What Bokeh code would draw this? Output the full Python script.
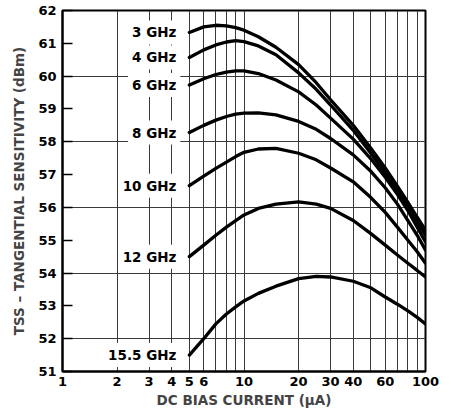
from bokeh.plotting import figure
from bokeh.models import FixedTicker, NumeralTickFormatter, Label, Range1d
from bokeh.embed import file_html
from bokeh.resources import INLINE

# DC bias current (uA)
bias_ua = [5, 6, 7, 8, 9, 10, 12, 15, 20, 25, 30, 40, 50, 60, 70, 80, 90, 100]

# TSS (dBm) per frequency
tss_3ghz = [61.33, 61.50, 61.55, 61.53, 61.48, 61.40, 61.20, 60.88, 60.35, 59.80,
            59.28, 58.50, 57.80, 57.20, 56.65, 56.15, 55.70, 55.30]
tss_4ghz = [60.57, 60.80, 60.95, 61.04, 61.08, 61.05, 60.92, 60.65, 60.10, 59.60,
            59.12, 58.35, 57.65, 57.05, 56.50, 56.00, 55.55, 55.15]
tss_6ghz = [59.73, 59.92, 60.05, 60.12, 60.16, 60.16, 60.08, 59.88, 59.52, 59.12,
            58.72, 58.08, 57.48, 56.92, 56.40, 55.90, 55.40, 54.95]
tss_8ghz = [58.28, 58.50, 58.66, 58.77, 58.84, 58.87, 58.88, 58.82, 58.62, 58.38,
            58.10, 57.60, 57.10, 56.60, 56.10, 55.60, 55.15, 54.70]
tss_10ghz = [56.66, 56.95, 57.19, 57.38, 57.55, 57.68, 57.78, 57.80, 57.65, 57.45,
             57.20, 56.78, 56.30, 55.85, 55.40, 55.00, 54.65, 54.30]
tss_12ghz = [54.50, 54.85, 55.15, 55.40, 55.60, 55.77, 55.97, 56.10, 56.17, 56.10,
             55.97, 55.60, 55.20, 54.85, 54.55, 54.30, 54.08, 53.88]
tss_15_5ghz = [51.50, 52.00, 52.45, 52.75, 52.97, 53.15, 53.38, 53.60, 53.83, 53.90,
               53.88, 53.75, 53.55, 53.27, 53.05, 52.85, 52.65, 52.45]

series = [tss_3ghz, tss_4ghz, tss_6ghz, tss_8ghz, tss_10ghz, tss_12ghz, tss_15_5ghz]
freq_labels = ["3 GHz", "4 GHz", "6 GHz", "8 GHz", "10 GHz", "12 GHz", "15.5 GHz"]

x_tick_values = [1, 2, 3, 4, 5, 6, 10, 20, 30, 40, 60, 100]
x_grid_values = [2, 3, 4, 5, 6, 7, 8, 9, 10, 20, 30, 40, 50, 60, 70, 80, 90]
y_tick_values = [51, 52, 53, 54, 55, 56, 57, 58, 59, 60, 61, 62]
y_grid_values = [52, 54, 56, 58, 60]

FONT = "DejaVu Sans"

p = figure(width=444, height=410, x_axis_type="log",
           x_range=Range1d(1, 100), y_range=Range1d(51, 62),
           output_backend="svg", toolbar_location=None,
           min_border_left=62, min_border_right=19,
           min_border_top=10, min_border_bottom=36)

p.background_fill_color = "white"
p.border_fill_color = "white"
p.outline_line_color = "black"
p.outline_line_width = 2

# grids
p.xgrid.ticker = FixedTicker(ticks=x_grid_values)
p.ygrid.ticker = FixedTicker(ticks=y_grid_values)
for g in (p.xgrid, p.ygrid):
    g.grid_line_color = "#3a3a3a"
    g.grid_line_width = 1
    g.minor_grid_line_color = None

# x axis
xa = p.xaxis[0]
xa.ticker = FixedTicker(ticks=x_tick_values)
xa.formatter = NumeralTickFormatter(format="0")
xa.major_tick_in = 0
xa.major_tick_out = 0
xa.minor_tick_in = 0
xa.minor_tick_out = 0
xa.axis_line_width = 2
xa.major_label_standoff = 5
xa.major_label_text_font = FONT
xa.major_label_text_font_style = "bold"
xa.major_label_text_font_size = "13px"
xa.major_label_text_color = "black"
xa.axis_label = "DC BIAS CURRENT (µA)"
xa.axis_label_text_font = FONT
xa.axis_label_text_font_style = "bold"
xa.axis_label_text_font_size = "13.5px"
xa.axis_label_standoff = 3

# y axis
ya = p.yaxis[0]
ya.ticker = FixedTicker(ticks=y_tick_values)
ya.major_tick_in = 10
ya.major_tick_out = 0
ya.major_tick_line_width = 1.5
ya.minor_tick_in = 0
ya.minor_tick_out = 0
ya.axis_line_width = 2
ya.major_label_standoff = 6
ya.major_label_text_font = FONT
ya.major_label_text_font_style = "bold"
ya.major_label_text_font_size = "13px"
ya.major_label_text_color = "black"
ya.axis_label = "TSS – TANGENTIAL SENSITIVITY (dBm)"
ya.axis_label_text_font = FONT
ya.axis_label_text_font_style = "bold"
ya.axis_label_text_font_size = "13.5px"
ya.axis_label_standoff = 8

# curves
for vals in series:
    p.line(bias_ua, vals, line_color="black", line_width=3.3, line_cap="round")

# labels
for name, vals in zip(freq_labels, series):
    lbl = Label(x=bias_ua[0], y=vals[0], x_offset=-9, text=name,
                text_align="right", text_baseline="middle",
                text_font=FONT, text_font_style="bold", text_font_size="13.5px",
                text_color="black",
                background_fill_color="white", padding=4)
    p.add_layout(lbl)

open("out.html", "w").write(file_html(p, INLINE))
